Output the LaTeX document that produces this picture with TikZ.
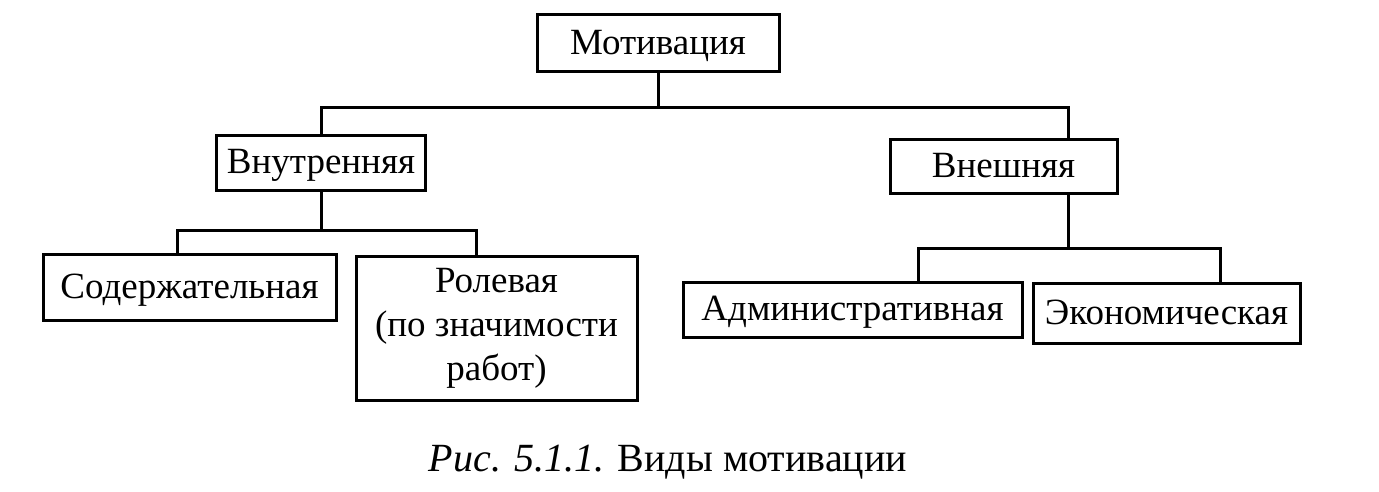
\documentclass[tikz,border=0pt]{standalone}
\usepackage{fontspec}
\setmainfont{Liberation Serif}
\begin{document}
\begin{tikzpicture}[x=1pt,y=-1pt,
  box/.style={draw,line width=3pt,inner sep=0pt,align=center,font=\fontsize{37}{44}\selectfont},
  one/.style={text height=26pt,text depth=4pt},
  conn/.style={line width=3pt}]
\useasboundingbox (0,0) rectangle (1379,492);
\node[box,one,minimum width=242,minimum height=57] (mot) at (658,43.5) {Мотивация};
\node[box,one,minimum width=209,minimum height=54] (int) at (321,163) {Внутренняя};
\node[box,one,minimum width=227,minimum height=53] (ext) at (1003.5,166.5) {Внешняя};
\node[box,one,minimum width=293,minimum height=66] (sod) at (189.5,287) {Содержательная};
\node[box,minimum width=281,minimum height=144] (rol) at (496.5,328) {Ролевая\\(по значимости\\работ)};
\node[box,one,minimum width=339,minimum height=55] (adm) at (852.5,309.5) {Административная};
\node[box,one,minimum width=267,minimum height=60] (eko) at (1166.5,313) {Экономическая};
\node[font=\fontsize{40}{42}\selectfont] (cap) at (668,462) {\textit{Рис. 5.1.1.} Виды мотивации};
\coordinate (j1) at (658,108);
\coordinate (extin) at (1068,140);
\coordinate (j2) at (321,230);
\coordinate (sodin) at (177,254);
\coordinate (rolin) at (476,256);
\coordinate (extout) at (1068,193);
\coordinate (j3) at (1068,248);
\coordinate (admin) at (918,282);
\coordinate (ekoin) at (1220,283);
\draw[conn] (mot.south) -- (j1);
\draw[conn] (int.north) |- (j1) -| (extin);
\draw[conn] (int.south) -- (j2);
\draw[conn] (sodin) |- (j2) -| (rolin);
\draw[conn] (extout) -- (j3);
\draw[conn] (admin) |- (j3) -| (ekoin);
\end{tikzpicture}
\end{document}
